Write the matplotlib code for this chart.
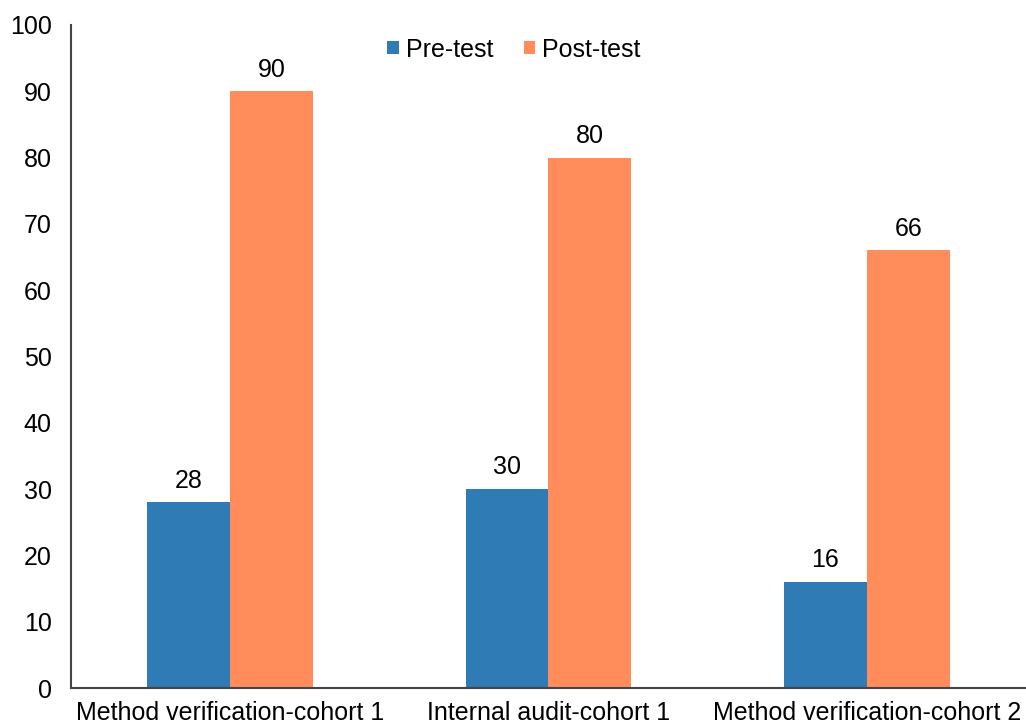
import matplotlib
matplotlib.use("Agg")
import matplotlib.pyplot as plt
import numpy as np

categories = ["Method verification-cohort 1", "Internal audit-cohort 1", "Method verification-cohort 2"]
pre_test = [28, 30, 16]
post_test = [90, 80, 66]
y_ticks = list(range(0, 101, 10))

plt.rcParams['font.family'] = ['Liberation Sans', 'DejaVu Sans']

fig = plt.figure(figsize=(10.26, 7.24), dpi=100)
ax = fig.add_axes([0.0692, 0.0497, 0.9308, 0.9158])

blue = "#2E7BB6"
orange = "#FF8C5A"
x = np.arange(len(categories))
w = 0.26
b1 = ax.bar(x - w/2, pre_test, w, color=blue, label="Pre-test")
b2 = ax.bar(x + w/2, post_test, w, color=orange, label="Post-test")

for bars in (b1, b2):
    for r in bars:
        ax.annotate(f"{int(r.get_height())}", (r.get_x() + r.get_width()/2, r.get_height()),
                    xytext=(0, 7), textcoords="offset points", ha="center", va="bottom", fontsize=18)

ax.set_xlim(-0.5, 2.5)
ax.set_ylim(0, 100)
ax.set_yticks(y_ticks)
ax.set_xticks(x)
ax.set_xticklabels(categories)
ax.tick_params(axis='both', length=0, labelsize=18)
ax.tick_params(axis='y', pad=14)
ax.tick_params(axis='x', pad=9)
for s in ("top", "right"):
    ax.spines[s].set_visible(False)
for s in ("left", "bottom"):
    ax.spines[s].set_color("#444444")
    ax.spines[s].set_linewidth(1.5)

ax.legend(loc="upper center", bbox_to_anchor=(0.464, 1.015), ncol=2, frameon=False, fontsize=18,
          handlelength=0.45, handleheight=0.45, handletextpad=0.3, columnspacing=1.2)

fig.savefig("out.png", dpi=100)
